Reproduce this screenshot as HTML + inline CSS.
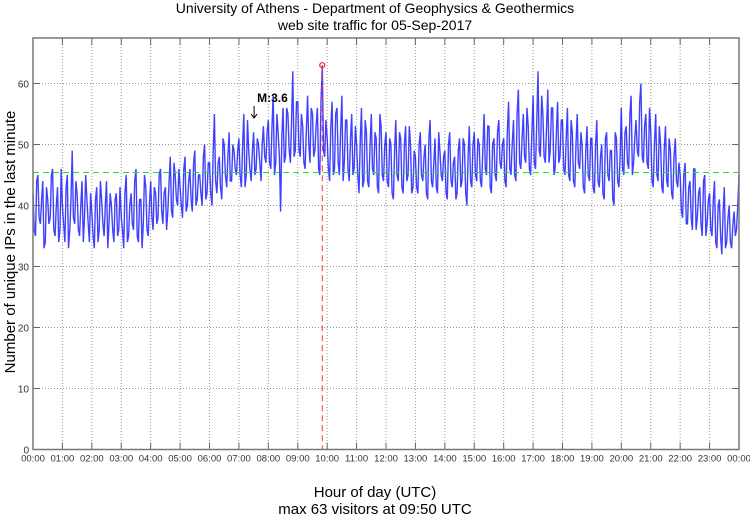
<!DOCTYPE html>
<html><head><meta charset="utf-8"><style>
body{margin:0;background:#fff;}
svg text{font-family:"Liberation Sans",sans-serif;}
</style></head><body>
<svg id="chart" width="750" height="515" xmlns="http://www.w3.org/2000/svg">
<text x="375" y="13" text-anchor="middle" font-size="14">University of Athens - Department of Geophysics &amp; Geothermics</text>
<text x="375" y="30" text-anchor="middle" font-size="14">web site traffic for 05-Sep-2017</text>
<text x="375" y="497" text-anchor="middle" font-size="15">Hour of day (UTC)</text>
<text x="375" y="514" text-anchor="middle" font-size="15">max 63 visitors at 09:50 UTC</text>
<text transform="translate(15,242) rotate(-90)" text-anchor="middle" font-size="15">Number of unique IPs in the last minute</text>
<g id="grid"></g>
<g id="series"></g>
<g id="marks"></g>
<g id="axes"></g>
</svg>
<script>
const hourLabels=["00:00","01:00","02:00","03:00","04:00","05:00","06:00","07:00","08:00","09:00","10:00","11:00","12:00","13:00","14:00","15:00","16:00","17:00","18:00","19:00","20:00","21:00","22:00","23:00","00:00"];
const yTicks=[0,10,20,30,40,50,60];
const meanValue=45.4;
const maxValue=63;
const maxHour=9+50/60;
const annotationHour=7.55;
const annotationLabel="M:3.6";
// samples at minute 0,5,10,... of each hour
const visitors=[
42,35,45,37,44,34,41,38,46,35,43,36,
40,34,45,36,49,37,42,35,44,38,41,34,
39,33,43,36,41,35,44,37,40,34,42,36,
38,33,45,35,42,36,46,34,41,37,43,35,
44,36,42,38,46,37,43,39,48,38,45,40,
43,38,48,40,46,39,49,41,45,40,50,42,
47,40,55,42,48,41,50,43,52,44,49,45,
51,43,55,45,49,44,52,46,50,44,53,47,
54,46,58,47,52,39,56,48,55,47,62,49,
57,48,53,46,58,47,55,49,56,45,63,48,
51,44,57,46,56,45,58,47,54,44,55,46,
50,42,56,44,52,43,55,45,51,42,53,44,
52,43,50,41,54,44,51,42,53,45,50,43,
48,42,52,44,50,41,54,43,51,42,49,44,
49,41,52,43,48,42,51,44,50,40,53,43,
52,44,50,43,55,45,53,42,51,44,54,46,
51,43,57,45,54,44,59,46,55,47,53,45,
58,46,62,48,55,47,59,49,56,46,57,48,
54,45,56,44,52,43,55,46,50,42,53,44,
51,42,54,43,50,41,52,44,49,40,51,43,
56,45,53,46,58,47,54,48,60,47,55,46,
52,43,55,44,50,42,53,43,49,41,51,43,
45,38,47,37,44,36,46,38,43,35,45,37,
42,35,44,33,41,32,43,34,40,33,39,36,45];
// samples at minute 2.5,7.5,... of each hour
const visitorsMid=[
36,44,38,41,33,43,37,45,36,40,34,46,
37,43,33,41,38,44,36,40,34,45,37,42,
35,41,34,44,37,40,33,42,36,41,35,43,
36,42,34,40,37,44,35,41,33,45,36,40,
38,43,37,45,39,42,36,44,39,47,41,46,
40,46,39,44,41,47,40,45,42,48,41,47,
42,49,44,47,43,51,45,48,44,50,46,49,
45,50,43,54,46,49,45,51,47,50,48,52,
47,53,45,55,48,51,47,56,49,54,48,57,
49,55,47,52,50,56,48,53,46,57,49,54,
46,53,45,55,47,52,44,54,46,51,45,53,
45,51,43,54,44,50,46,52,43,55,45,50,
44,51,42,49,45,52,43,50,44,53,42,49,
43,50,45,48,42,51,44,47,43,52,45,48,
42,50,44,47,41,49,43,51,42,48,44,50,
45,51,44,49,46,53,43,50,45,52,47,50,
44,52,46,50,45,55,47,51,48,56,46,52,
47,54,49,58,48,53,47,56,45,52,47,54,
46,51,45,54,44,50,47,52,43,49,45,51,
43,50,44,48,42,51,45,49,41,52,44,48,
46,52,47,55,45,51,49,57,48,53,47,56,
44,50,45,53,43,49,44,51,42,48,44,47,
39,45,37,43,38,46,36,42,37,44,35,41,
36,41,34,40,35,39,33,38,34,37,35,40];

const X0=33,X1=739,Y0=449.5,YTOP=38,PPU=6.1;
const xs=h=>X0+(X1-X0)*h/24;
const ys=v=>Y0-v*PPU;
const NS="http://www.w3.org/2000/svg";
function mk(parent,tag,attrs){const e=document.createElementNS(NS,tag);for(const k in attrs)e.setAttribute(k,attrs[k]);parent.appendChild(e);return e;}
const grid=document.getElementById('grid'),series=document.getElementById('series'),marks=document.getElementById('marks'),axes=document.getElementById('axes');

yTicks.forEach(v=>{
  if(v>0){const g=mk(grid,'line',{x1:X0,x2:X1,y1:ys(v),y2:ys(v),stroke:'#999','stroke-width':1,'stroke-dasharray':'1,2'});
  
  }
  const t=mk(axes,'text',{x:X0-4,y:ys(v)+4,'text-anchor':'end','font-size':10,fill:'#333'});t.textContent=v;
  
  
  mk(axes,'line',{x1:X0,x2:X0+7,y1:ys(v),y2:ys(v),stroke:'#666','stroke-width':1});
  mk(axes,'line',{x1:X1-7,x2:X1,y1:ys(v),y2:ys(v),stroke:'#666','stroke-width':1});
});
hourLabels.forEach((lab,i)=>{
  const x=xs(i);
  if(i>0&&i<24){const g=mk(grid,'line',{x1:x,x2:x,y1:YTOP,y2:Y0,stroke:'#999','stroke-width':1,'stroke-dasharray':'1,2'});
  
  }
  mk(axes,'line',{x1:x,x2:x,y1:Y0,y2:Y0-7,stroke:'#666','stroke-width':1});
  mk(axes,'line',{x1:x,x2:x,y1:YTOP,y2:YTOP+7,stroke:'#666','stroke-width':1});
  const t=mk(axes,'text',{x:x,y:Y0+12,'text-anchor':'middle','font-size':9.5,fill:'#333'});t.textContent=lab;
  
  
});
const frame=mk(axes,'rect',{x:X0,y:YTOP,width:X1-X0,height:Y0-YTOP,fill:'none',stroke:'#777','stroke-width':1.5});



const n=visitors.length-1;
const all=[];
for(let i=0;i<visitors.length;i++){
  all.push([24*i/n,visitors[i]]);
  if(i<visitorsMid.length) all.push([24*(i+0.5)/n,visitorsMid[i]]);
}
const pts=all.map(p=>xs(p[0]).toFixed(1)+','+ys(p[1]).toFixed(1)).join(' ');
const line=mk(series,'polyline',{points:pts,fill:'none',stroke:'#0000ff','stroke-width':1.4,'stroke-opacity':0.75});



const mean=mk(marks,'line',{x1:X0,x2:X1,y1:ys(meanValue),y2:ys(meanValue),stroke:'#22e022','stroke-width':1,'stroke-dasharray':'6,4'});


const vl=mk(marks,'line',{x1:xs(maxHour),x2:xs(maxHour),y1:ys(maxValue),y2:Y0,stroke:'#ff3030','stroke-width':1,'stroke-dasharray':'6,4'});


const mc=mk(marks,'circle',{cx:xs(maxHour),cy:ys(maxValue),r:2.5,fill:'none',stroke:'#ff2020','stroke-width':1.2});


const at=mk(marks,'text',{x:xs(annotationHour)+2,y:102,'font-size':12,'font-weight':'bold'});at.textContent=annotationLabel;


const ax=xs(annotationHour)-1;
const ar=mk(marks,'path',{d:`M${ax},106 L${ax},118 M${ax-3},114 L${ax},118 L${ax+3},114`,fill:'none',stroke:'#000','stroke-width':1});


</script>
</body></html>
